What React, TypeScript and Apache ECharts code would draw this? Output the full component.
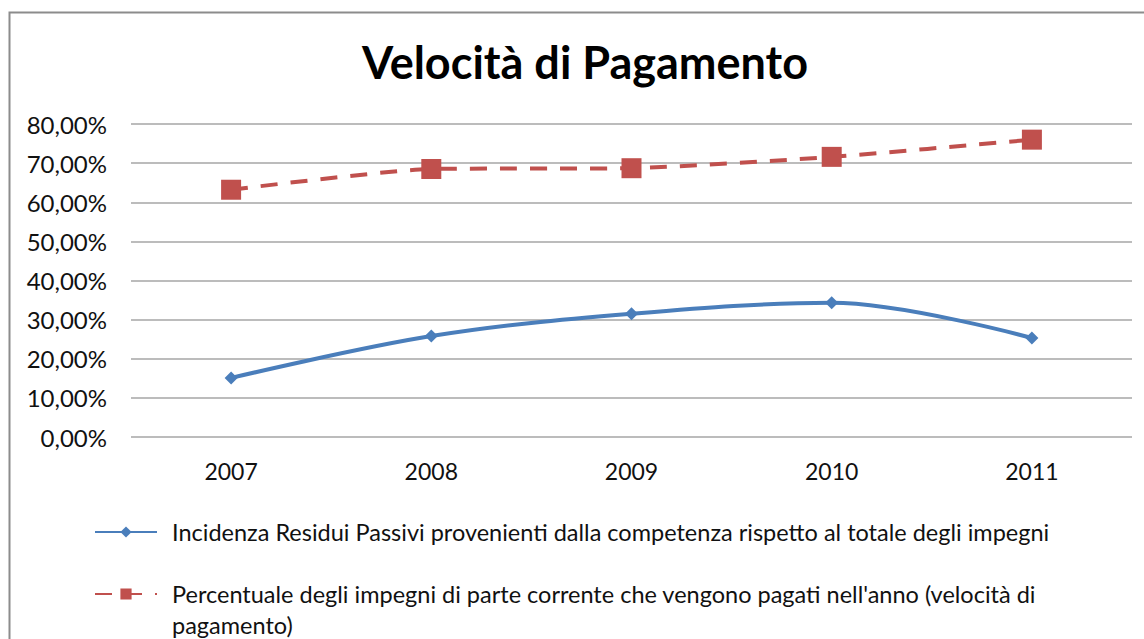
import React, { useEffect, useRef } from "react";
import * as echarts from "echarts";

const years = ["2007", "2008", "2009", "2010", "2011"];
const incidenza = [0.151, 0.258, 0.315, 0.343, 0.253];
const percentuale = [0.632, 0.685, 0.687, 0.716, 0.76];
const seriesNames = [
  "Incidenza Residui Passivi provenienti dalla competenza rispetto al totale degli impegni",
  "Percentuale degli impegni di parte corrente che vengono pagati nell'anno (velocità di pagamento)",
];
const titleText = "Velocità di Pagamento";

const FONT = "Lato, 'Open Sans', sans-serif";

export default function App() {
  const ref = useRef<HTMLDivElement>(null);
  useEffect(() => {
    if (!ref.current) return;
    const chart = echarts.init(ref.current, undefined, { renderer: "svg" });
    chart.setOption({
      animation: false,
      backgroundColor: "#ffffff",
      title: {
        text: titleText,
        left: 580,
        textAlign: "center",
        top: 34,
        textStyle: { fontFamily: FONT, fontSize: 45, fontWeight: "bold", color: "#000" },
      },
      grid: { left: 131, right: 12, top: 124, bottom: 202, containLabel: false },
      xAxis: {
        type: "category",
        data: years,
        boundaryGap: true,
        axisLine: { show: false },
        axisTick: { show: false },
        axisLabel: { fontFamily: FONT, fontSize: 23, color: "#111", margin: 22 },
        splitLine: { show: false },
      },
      yAxis: {
        type: "value",
        min: 0,
        max: 0.8,
        interval: 0.1,
        axisLine: { show: false },
        axisTick: { show: false },
        axisLabel: {
          fontFamily: FONT,
          fontSize: 24,
          color: "#111",
          margin: 24,
          formatter: (v: number) => (v * 100).toFixed(2).replace(".", ",") + "%",
        },
        splitLine: { lineStyle: { color: "#a6a6a6", width: 1.5 } },
      },
      legend: {
        orient: "vertical",
        left: 89,
        top: 515,
        itemWidth: 62,
        itemHeight: 14,
        itemGap: 38,
        textStyle: {
          fontFamily: FONT,
          fontSize: 23.5,
          lineHeight: 24,
          color: "#111",
          padding: [0, 0, 0, 10],
        },
        formatter: (name: string) =>
          name === seriesNames[1] ? name.replace(" pagamento)", "") : name,
      },
      graphic: [
        {
          type: "rect",
          shape: { x: 9.5, y: 12.5, width: 1160, height: 660 },
          style: { fill: "none", stroke: "#8c8c8c", lineWidth: 2 },
          silent: true,
        },
        {
          type: "text",
          left: 172,
          top: 613,
          style: {
            text: "pagamento)",
            fontFamily: FONT,
            fontSize: 23.5,
            lineHeight: 24,
            fill: "#111",
          },
        },
      ],
      series: [
        {
          name: seriesNames[0],
          type: "line",
          data: incidenza,
          smooth: 0.35,
          symbol: "diamond",
          symbolSize: 13,
          itemStyle: { color: "#4a7ebb" },
          lineStyle: { color: "#4a7ebb", width: 4 },
        },
        {
          name: seriesNames[1],
          type: "line",
          data: percentuale,
          smooth: 0.2,
          symbol: "rect",
          symbolSize: 20,
          itemStyle: { color: "#c0504d" },
          lineStyle: { color: "#c0504d", width: 4, type: [17, 13] },
        },
      ],
    });
    return () => chart.dispose();
  }, []);
  return (
    <div
      ref={ref}
      style={{ position: "fixed", left: 0, top: 0, width: 1144, height: 639 }}
    />
  );
}
